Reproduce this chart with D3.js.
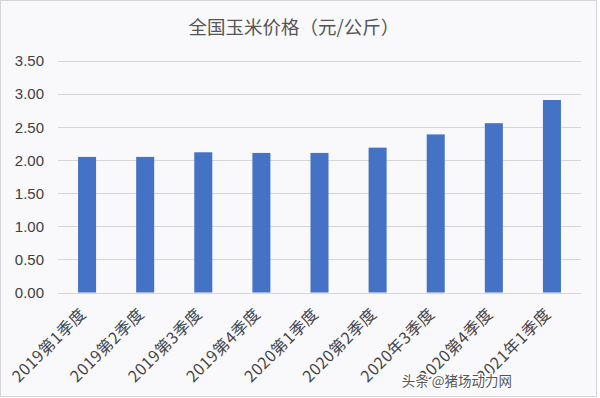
<!DOCTYPE html>
<html lang="zh">
  <head>
    <meta charset="UTF-8" />
    <title>全国玉米价格</title>
    <script src="https://d3js.org/d3.v7.min.js"></script>
    <style>
      body { margin: 0; background: #fff; }
      text { font-family: "Noto Sans CJK SC", "Noto Sans", sans-serif; }
    </style>
  </head>
  <body>
    <div id="chart"></div>
    <script>
      const categories = [
        "2019第1季度", "2019第2季度", "2019第3季度", "2019第4季度",
        "2020第1季度", "2020第2季度", "2020年3季度", "2020第4季度", "2021年1季度"
      ];
      const prices = [2.05, 2.05, 2.12, 2.11, 2.11, 2.19, 2.39, 2.56, 2.91];
      const yTicks = [0, 0.5, 1, 1.5, 2, 2.5, 3, 3.5];

      const width = 600;
      const height = 398;
      const margin = { top: 61, right: 19, bottom: 105, left: 58 };

      const svg = d3.select("#chart")
        .append("svg")
        .attr("width", width)
        .attr("height", height);

      // background + thin frame
      svg.append("rect")
        .attr("x", 0.5).attr("y", 0.5)
        .attr("width", width - 4).attr("height", height - 2)
        .attr("fill", "#f9f9fb")
        .attr("stroke", "#d4d4d8");

      const x = d3.scaleBand()
        .domain(categories)
        .range([margin.left, width - margin.right])
        .paddingInner(0.69)
        .paddingOuter(0.345);

      const y = d3.scaleLinear()
        .domain([0, 3.5])
        .range([height - margin.bottom - 0.5, margin.top]);

      // gridlines
      svg.append("g")
        .selectAll("line")
        .data(yTicks)
        .join("line")
        .attr("x1", margin.left)
        .attr("x2", width - margin.right)
        .attr("y1", d => Math.round(y(d)) + 0.5)
        .attr("y2", d => Math.round(y(d)) + 0.5)
        .attr("stroke", "#d6d6d6")
        .attr("stroke-width", 1);

      // y labels
      svg.append("g")
        .selectAll("text")
        .data(yTicks)
        .join("text")
        .attr("x", 44)
        .attr("y", d => y(d))
        .attr("dy", "0.36em")
        .attr("text-anchor", "end")
        .attr("font-size", 15)
        .attr("fill", "#404040")
        .style("font-family", "'Liberation Sans', Arial, sans-serif")
        .text(d => d.toFixed(2));

      // bars
      svg.append("g")
        .selectAll("rect")
        .data(prices)
        .join("rect")
        .attr("x", (d, i) => x(categories[i]))
        .attr("y", d => y(d))
        .attr("width", x.bandwidth())
        .attr("height", d => y(0) - y(d))
        .attr("fill", "#4472c4");

      // x labels, rotated
      svg.append("g")
        .selectAll("text")
        .data(categories)
        .join("text")
        .attr("transform", d => `translate(${x(d) + x.bandwidth() / 2},${height - margin.bottom + 22}) rotate(-45)`)
        .attr("text-anchor", "end")
        .attr("font-size", 16)
        .attr("letter-spacing", 0.5)
        .attr("fill", "#454545")
        .text(d => d);

      // title
      svg.append("text")
        .attr("x", 294)
        .attr("y", 34)
        .attr("text-anchor", "middle")
        .attr("font-size", 18.5)
        .attr("fill", "#555")
        .text("全国玉米价格（元/公斤）");

      // watermark
      svg.append("text")
        .attr("x", 512)
        .attr("y", 386)
        .attr("text-anchor", "end")
        .attr("font-size", 13.5)
        .attr("fill", "#555")
        .attr("stroke", "#fff")
        .attr("stroke-width", 2.5)
        .attr("paint-order", "stroke")
        .text("头条 @猪场动力网");
    </script>
  </body>
</html>
